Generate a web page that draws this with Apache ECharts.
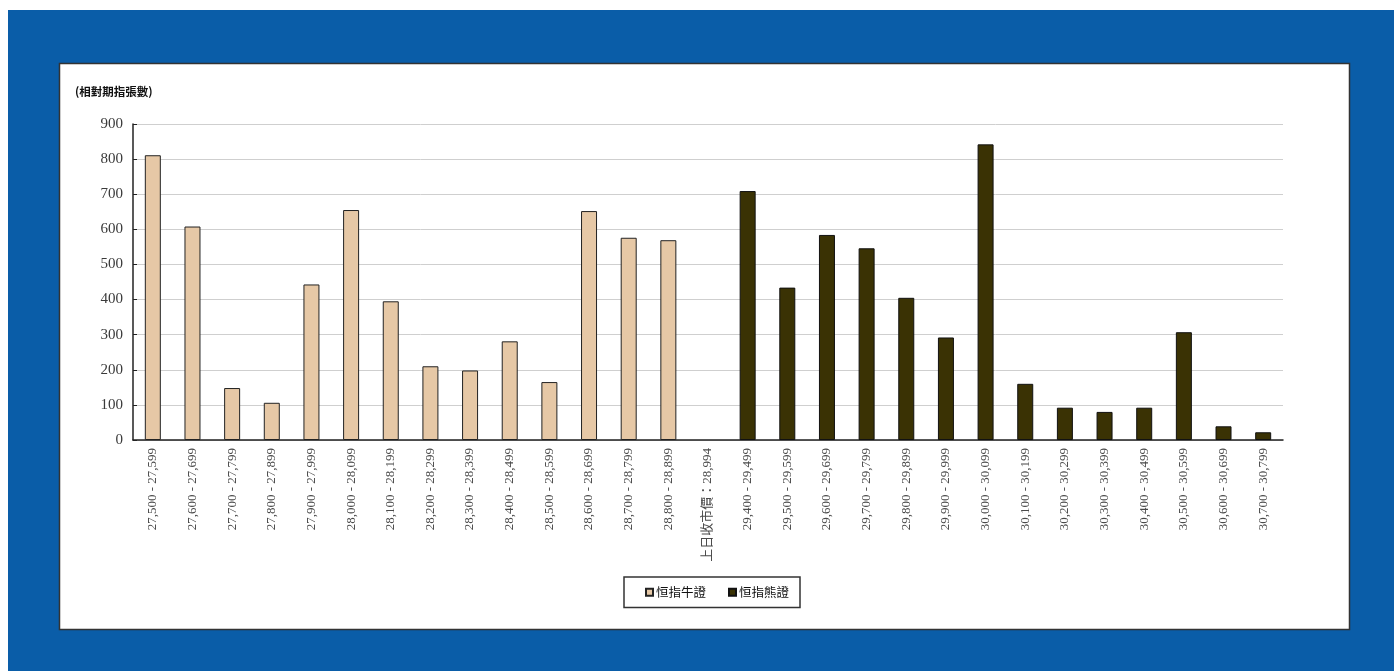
<!DOCTYPE html>
<html><head><meta charset="utf-8">
<script src="https://cdn.jsdelivr.net/npm/echarts@6/dist/echarts.min.js"></script>
<style>html,body{margin:0;padding:0;background:#fff;}#c{width:1394px;height:671px;}</style>
</head><body><div id="c"></div>
<script>
const categories = ['27,500 - 27,599','27,600 - 27,699','27,700 - 27,799','27,800 - 27,899','27,900 - 27,999','28,000 - 28,099','28,100 - 28,199','28,200 - 28,299','28,300 - 28,399','28,400 - 28,499','28,500 - 28,599','28,600 - 28,699','28,700 - 28,799','28,800 - 28,899','上日收市價：28,994','29,400 - 29,499','29,500 - 29,599','29,600 - 29,699','29,700 - 29,799','29,800 - 29,899','29,900 - 29,999','30,000 - 30,099','30,100 - 30,199','30,200 - 30,299','30,300 - 30,399','30,400 - 30,499','30,500 - 30,599','30,600 - 30,699','30,700 - 30,799'];
const bullValues = [811,608,148,106,443,655,395,210,198,281,165,652,576,569,null,null,null,null,null,null,null,null,null,null,null,null,null,null,null];
const bearValues = [null,null,null,null,null,null,null,null,null,null,null,null,null,null,null,709,434,584,546,405,292,842,160,92,80,92,307,39,22];
const seriesNames = ['恒指牛證','恒指熊證'];
const yTitle = '(相對期指張數)';

const chart = echarts.init(document.getElementById('c'));
chart.setOption({
  backgroundColor: '#ffffff',
  animation: false,
  graphic: [
    {type:'rect', z:-10, shape:{x:8,y:10,width:1386,height:661}, style:{fill:'#0a5da8'}},
    {type:'rect', z:-9, shape:{x:59.5,y:63.5,width:1290,height:566}, style:{fill:'#ffffff',stroke:'#333',lineWidth:1.5}},
    {type:'text', left:75, top:86, style:{text:yTitle, font:'bold 11.5px "Noto Sans CJK TC", sans-serif', fill:'#111'}}
  ],
  grid: {left:133, right:111, top:124, bottom:231},
  legend: {
    data: seriesNames,
    left: 624, top: 577,
    itemWidth: 7, itemHeight: 7, itemGap: 22,
    padding: [9, 11, 9, 21],
    borderColor: '#333', borderWidth: 1.5,
    backgroundColor: '#fff',
    icon: 'rect',
    textStyle: {fontFamily:'"Noto Sans CJK TC", sans-serif', fontSize: 12.5, color:'#111', padding:[0,0,0,-2]}
  },
  xAxis: {
    type: 'category',
    data: categories,
    boundaryGap: true,
    axisLine: {lineStyle:{color:'#222', width:1.5}},
    axisTick: {inside:true, length:4, lineStyle:{color:'#222', width:1.2}, alignWithLabel:false},
    axisLabel: {rotate:90, interval:0, margin:8, color:'#4a4a4a', fontSize:13, fontFamily:'"Liberation Serif", "Noto Sans CJK TC", serif'}
  },
  yAxis: {
    type: 'value',
    min: 0, max: 900, interval: 100,
    axisLine: {show:true, lineStyle:{color:'#222', width:1.5}},
    axisTick: {show:true, inside:true, length:4, lineStyle:{color:'#222'}},
    axisLabel: {color:'#3a3a3a', fontSize:15, margin:10, fontFamily:'"Liberation Serif", serif'},
    splitLine: {lineStyle:{color:'#cfcfcf', width:1}}
  },
  series: [
    {name: seriesNames[0], type:'bar', stack:'s', data: bullValues, barWidth:16,
     itemStyle:{color:'#e6c8a6', borderColor:'#222', borderWidth:1}},
    {name: seriesNames[1], type:'bar', stack:'s', data: bearValues, barWidth:16,
     itemStyle:{color:'#3a3204', borderColor:'#111', borderWidth:1}}
  ]
});
</script></body></html>
